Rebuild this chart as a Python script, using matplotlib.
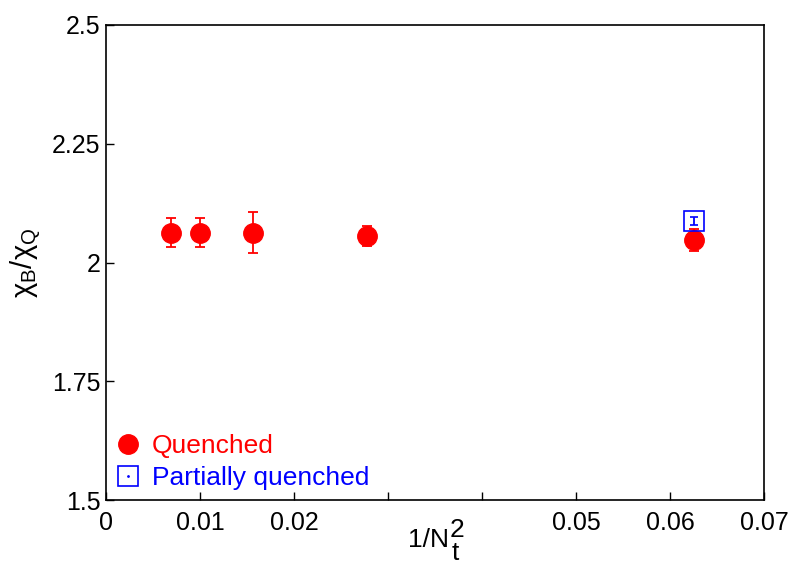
import matplotlib
matplotlib.use('Agg')
import matplotlib.pyplot as plt
from matplotlib.lines import Line2D

plt.rcParams['font.family'] = ['Liberation Sans', 'DejaVu Sans']
plt.rcParams['mathtext.default'] = 'regular'

# quenched data: 1/Nt^2 for Nt = 12, 10, 8, 6, 4
x_q = [1/144, 1/100, 1/64, 1/36, 1/16]
y_q = [2.063, 2.063, 2.063, 2.056, 2.047]
err_q = [0.031, 0.031, 0.044, 0.021, 0.023]

# partially quenched
x_pq = [1/16]
y_pq = [2.088]
err_pq = [0.008]

xticks = [0, 0.01, 0.02, 0.03, 0.04, 0.05, 0.06, 0.07]
xticklabels = ['0', '0.01', '0.02', '', '', '0.05', '0.06', '0.07']
yticks = [1.5, 1.75, 2, 2.25, 2.5]
yticklabels = ['1.5', '1.75', '2', '2.25', '2.5']

fig = plt.figure(figsize=(7.91, 5.65), dpi=100)
ax = fig.add_axes([106/791, 65/565, 658/791, 475/565])

ax.errorbar(x_q, y_q, yerr=err_q, fmt='o', color='red', ms=14,
            elinewidth=1.3, capsize=3.5, capthick=1.3)
ax.errorbar(x_pq, y_pq, yerr=err_pq, fmt='s', color='blue', mfc='none',
            ms=15, mew=1.2, elinewidth=1.3, capsize=3, capthick=1.3)

ax.set_xlim(0, 0.07)
ax.set_ylim(1.5, 2.5)
ax.set_xticks(xticks)
ax.set_xticklabels(xticklabels)
ax.set_yticks(yticks)
ax.set_yticklabels(yticklabels)
ax.tick_params(direction='in', length=6, width=1, labelsize=18,
               top=False, right=False)
ax.tick_params(axis='x', pad=8)
ax.tick_params(axis='y', pad=4)
for s in ax.spines.values():
    s.set_linewidth(1.2)

# x label: 1/N with subscript t and superscript 2 at near full size
fig.text(408/791, 1 - 547/565, '1/N', fontsize=19, ha='left', va='baseline')
fig.text(450/791, 1 - 537/565, '2', fontsize=19, ha='left', va='baseline')
fig.text(452/791, 1 - 560/565, 't', fontsize=19, ha='left', va='baseline')

ax.set_ylabel('χ$_B$/χ$_Q$', fontsize=21)
ax.yaxis.set_label_coords(-0.094, 0.5)

sq = Line2D([], [], marker='s', color='blue', mfc='none', ls='none', ms=15, mew=1.2)
dot = Line2D([], [], marker='.', color='blue', ls='none', ms=2)
handles = [
    Line2D([], [], marker='o', color='red', ls='none', ms=14),
    (sq, dot),
]
leg = ax.legend(handles, ['Quenched', 'Partially quenched'], loc='lower left',
                frameon=False, fontsize=19, handlelength=1.0, handletextpad=0.4,
                labelspacing=0.33, borderaxespad=0.0, borderpad=0.0,
                bbox_to_anchor=(0.014, 0.02), labelcolor=['red', 'blue'])

fig.savefig('out.png', dpi=100)
